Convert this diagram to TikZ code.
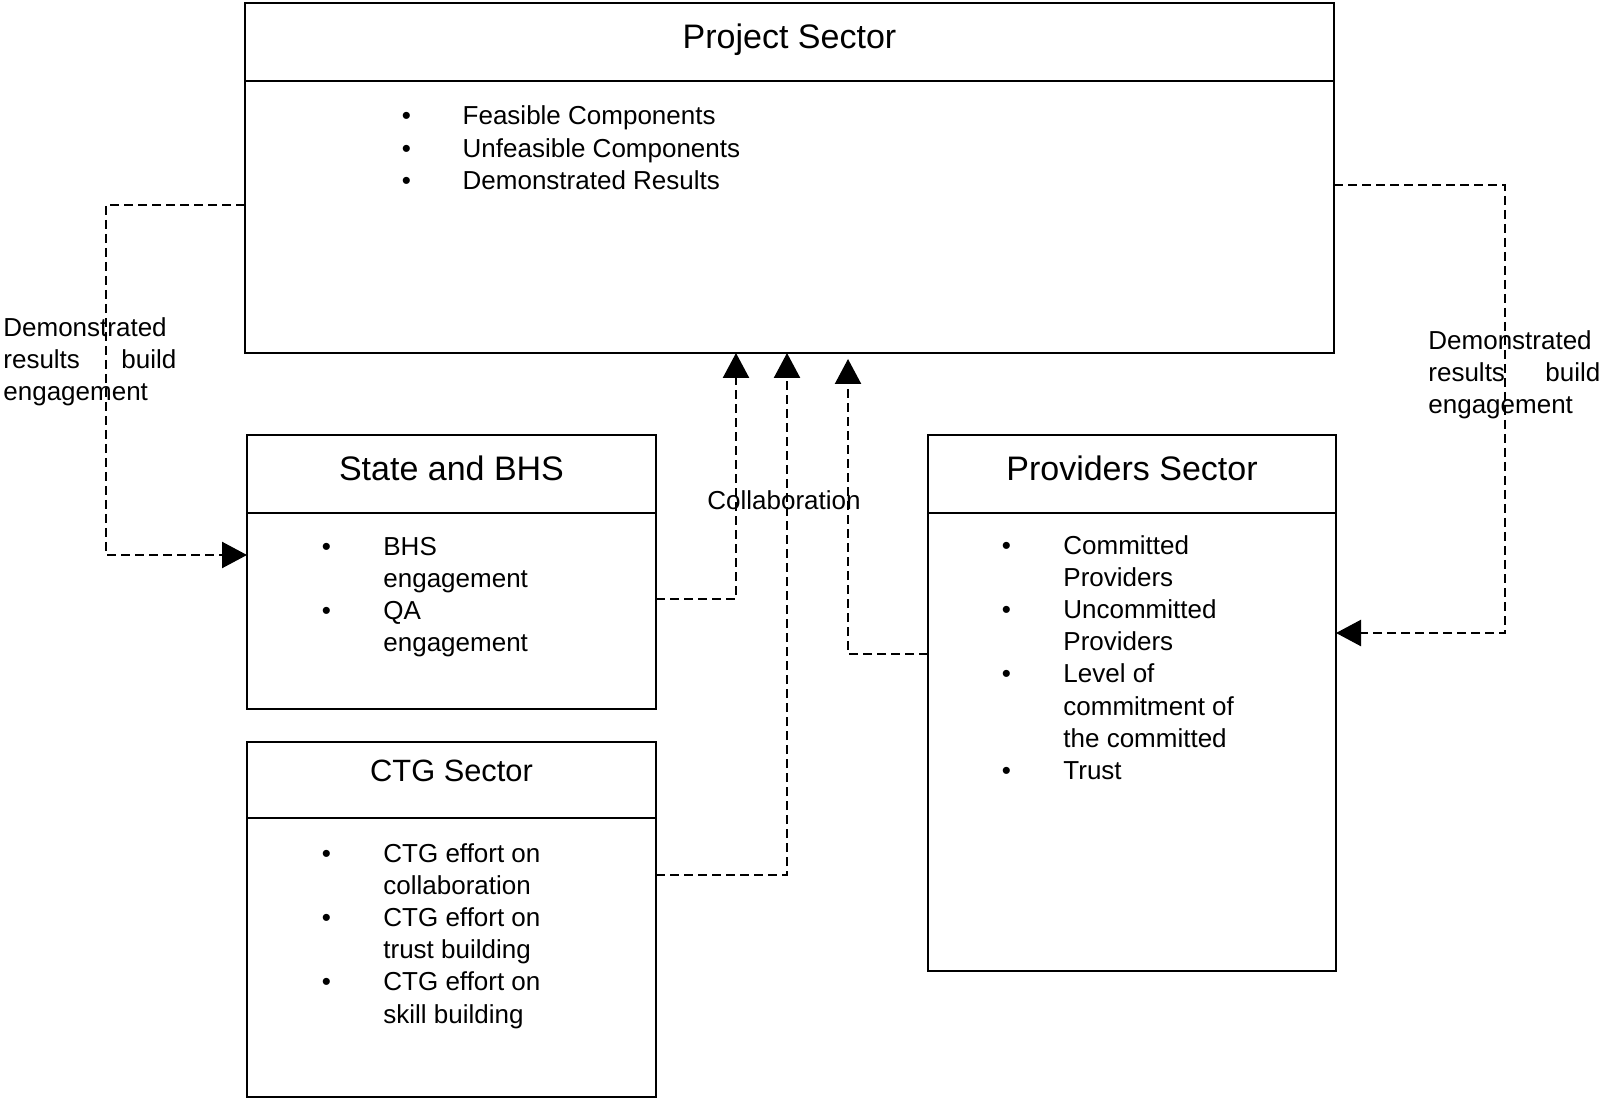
\documentclass[tikz,border=0pt]{standalone}
\usepackage{fontspec}
\setmainfont{Liberation Sans}
\usetikzlibrary{arrows.meta,positioning}
\tikzset{
  head/.style={draw, line width=1.4pt, inner sep=0pt, outer sep=0pt, minimum height=39pt, text height=12pt, text depth=5.5pt, font=\fontsize{17}{20}\selectfont},
  body/.style={draw, line width=1.4pt, inner sep=0pt, outer sep=0pt},
  items/.style={anchor=base west, inner sep=0pt, font=\fontsize{13}{16.1}\selectfont},
  note/.style={anchor=base west, inner sep=0pt, align=left, text width=86.5pt, font=\fontsize{13}{15.8}\selectfont},
  link/.style={-{Triangle[length=12.5pt,width=13pt]}, line width=1.2pt, dash pattern=on 4.5pt off 2.5pt}
}
\newcommand{\itemlist}[2]{\begin{tabular}[t]{@{}p{#1}@{}l@{}}#2\end{tabular}}

\begin{document}
\begin{tikzpicture}[x=0.5pt, y=0.5pt]
\useasboundingbox (0,0) rectangle (1600,1099);
% sector boxes
\node[head, minimum width=544.5pt, anchor=north west] (phead) at (245,1096) {Project Sector};
\node[body, minimum width=544.5pt, minimum height=136pt, below=0pt of phead] (pbody) {};
\node[head, minimum width=204.5pt, anchor=north west] (shead) at (247,664) {State and BHS};
\node[body, minimum width=204.5pt, minimum height=98pt, below=0pt of shead] (sbody) {};
\node[head, minimum width=204.5pt, minimum height=38pt, text height=10pt, text depth=9pt, font=\fontsize{15.4}{18}\selectfont, anchor=north west] (chead) at (247,357) {CTG Sector};
\node[body, minimum width=204.5pt, minimum height=139.5pt, below=0pt of chead] (cbody) {};
\node[head, minimum width=204pt, anchor=north west] (vhead) at (928,664) {Providers Sector};
\node[body, minimum width=204pt, minimum height=229pt, below=0pt of vhead] (vbody) {};
% bullet lists
\node[items] (plist) at ([shift={(156.5,-44)}]pbody.north west) {\itemlist{30.4pt}{%
  \textbullet & Feasible Components\\
  \textbullet & Unfeasible Components\\
  \textbullet & Demonstrated Results}};
\node[items] (slist) at ([shift={(74.5,-42)}]sbody.north west) {\itemlist{30.75pt}{%
  \textbullet & BHS\\ & engagement\\
  \textbullet & QA\\ & engagement}};
\node[items] (clist) at ([shift={(74.5,-44)}]cbody.north west) {\itemlist{30.75pt}{%
  \textbullet & CTG effort on\\ & collaboration\\
  \textbullet & CTG effort on\\ & trust building\\
  \textbullet & CTG effort on\\ & skill building}};
\node[items] (vlist) at ([shift={(73.5,-41)}]vbody.north west) {\itemlist{30.75pt}{%
  \textbullet & Committed\\ & Providers\\
  \textbullet & Uncommitted\\ & Providers\\
  \textbullet & Level of\\ & commitment of\\ & the committed\\
  \textbullet & Trust}};
% labels
\node[note] (lnote) at (3,762) {Demonstrated\\results\hfill build\\engagement};
\node[note, text width=86pt] (rnote) at (1428,749) {Demonstrated\\results\hfill build\\engagement};
\node[anchor=base, inner sep=0pt, font=\fontsize{13}{16}\selectfont] (collab) at (784,589) {Collaboration};
% feedback from the project
\coordinate (lturn) at (106,894);
\draw[link] (pbody.west |- lturn) -- (lturn) |- ([yshift=28pt]sbody.west);
\coordinate (rturn) at (1505,914);
\draw[link] (pbody.east |- rturn) -- (rturn) |- ([yshift=54.5pt]vbody.east);
% collaboration into the project
\coordinate (sturn) at (736,500);
\draw[link] (sbody.east |- sturn) -- (sturn) -- (sturn |- pbody.south);
\coordinate (cturn) at (787,224);
\draw[link] (cbody.east |- cturn) -- (cturn) -- (cturn |- pbody.south);
\coordinate (vturn) at (848,445);
\draw[link] (vbody.west |- vturn) -- (vturn) -- ([yshift=-3pt]vturn |- pbody.south);
\end{tikzpicture}
\end{document}
